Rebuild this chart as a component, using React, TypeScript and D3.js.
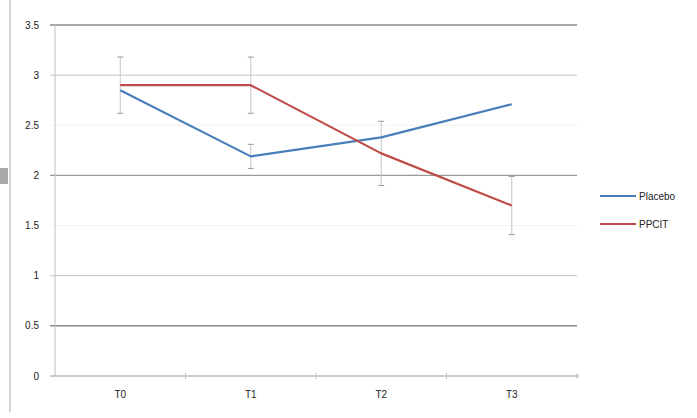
import React from "react";
import * as d3 from "d3";

const categories = ["T0", "T1", "T2", "T3"];
const placebo = [2.85, 2.19, 2.38, 2.71];
const ppcit = [2.9, 2.9, 2.22, 1.7];
const placeboErr = [0, 0.12, 0, 0];
const ppcitErr = [0.28, 0.28, 0.32, 0.29];
const yTicks = [0, 0.5, 1, 1.5, 2, 2.5, 3, 3.5];
const yTickLabels = ["0", "0.5", "1", "1.5", "2", "2.5", "3", "3.5"];
const seriesNames = ["Placebo", "PPCIT"];

const W = 697;
const H = 418;
const left = 55;
const right = 577;
const top = 25;
const bottom = 376;

export default function App() {
  const x = d3.scaleBand<string>().domain(categories).range([left, right]);
  const y = d3.scaleLinear().domain([0, 3.5]).range([bottom, top]);
  const cx = (c: string) => (x(c) as number) + x.bandwidth() / 2;
  const line = d3
    .line<number>()
    .x((_, i) => cx(categories[i]))
    .y((d) => y(d));

  const gridStyle: Record<string, { c: string; w: number }> = {
    "3.5": { c: "#8a8a8a", w: 1.5 },
    "3": { c: "#c4c4c4", w: 1 },
    "2.5": { c: "#f2f2f2", w: 1 },
    "2": { c: "#9a9a9a", w: 1.2 },
    "1.5": { c: "#f2f2f2", w: 1 },
    "1": { c: "#c4c4c4", w: 1 },
    "0.5": { c: "#8a8a8a", w: 1.5 },
  };

  const colors = ["#4a7ebb", "#be4b48"];
  const series = [placebo, ppcit];
  const errs = [placeboErr, ppcitErr];

  return (
    <svg
      width={W}
      height={H}
      style={{ position: "absolute", left: 0, top: 0, fontFamily: "Arial, 'Liberation Sans', sans-serif" }}
    >
      <rect x={0} y={0} width={W} height={H} fill="#fff" />
      <line x1={10} x2={10} y1={0} y2={412} stroke="#c8c8c8" strokeWidth={1.5} />
      <rect x={0} y={168} width={8} height={16} fill="#a8a8a8" />

      {yTicks.slice(1).map((t) => {
        const s = gridStyle[String(t)];
        return (
          <line
            key={t}
            x1={left - 5}
            x2={right}
            y1={y(t)}
            y2={y(t)}
            stroke={s.c}
            strokeWidth={s.w}
          />
        );
      })}
      {/* axes */}
      <line x1={left} x2={left} y1={top} y2={bottom} stroke="#c0c0c0" />
      <line x1={left - 5} x2={right + 2} y1={bottom} y2={bottom} stroke="#9a9a9a" />
      {categories.map((c) => (
        <line
          key={c}
          x1={(x(c) as number) + x.bandwidth()}
          x2={(x(c) as number) + x.bandwidth()}
          y1={bottom - 3}
          y2={bottom + 3}
          stroke="#c0c0c0"
        />
      ))}

      {yTicks.map((t, i) => (
        <text
          key={t}
          x={39}
          y={y(t)}
          dy="0.35em"
          textAnchor="end"
          fontSize={10}
          fill="#222"
        >
          {yTickLabels[i]}
        </text>
      ))}
      {categories.map((c) => (
        <text key={c} x={cx(c)} y={398} textAnchor="middle" fontSize={10} fill="#222">
          {c}
        </text>
      ))}

      {/* error bars */}
      {series.map((s, si) =>
        s.map((v, i) =>
          errs[si][i] > 0 ? (
            <g key={`${si}-${i}`}>
              <line
                x1={cx(categories[i])}
                x2={cx(categories[i])}
                y1={y(v + errs[si][i])}
                y2={y(v - errs[si][i])}
                stroke="#c8c8c8"
              />
              <line
                x1={cx(categories[i]) - 3}
                x2={cx(categories[i]) + 3}
                y1={y(v + errs[si][i])}
                y2={y(v + errs[si][i])}
                stroke="#999"
              />
              <line
                x1={cx(categories[i]) - 3}
                x2={cx(categories[i]) + 3}
                y1={y(v - errs[si][i])}
                y2={y(v - errs[si][i])}
                stroke="#999"
              />
            </g>
          ) : null
        )
      )}

      {series.map((s, si) => (
        <path
          key={si}
          d={line(s) || ""}
          fill="none"
          stroke={colors[si]}
          strokeWidth={2.2}
          strokeLinejoin="round"
        />
      ))}

      {seriesNames.map((n, i) => (
        <g key={n} transform={`translate(600, ${196 + i * 28})`}>
          <line x1={0} x2={36} y1={0} y2={0} stroke={colors[i]} strokeWidth={2.2} />
          <text x={39} y={0} dy="0.35em" fontSize={10} fill="#222">
            {n}
          </text>
        </g>
      ))}
    </svg>
  );
}
